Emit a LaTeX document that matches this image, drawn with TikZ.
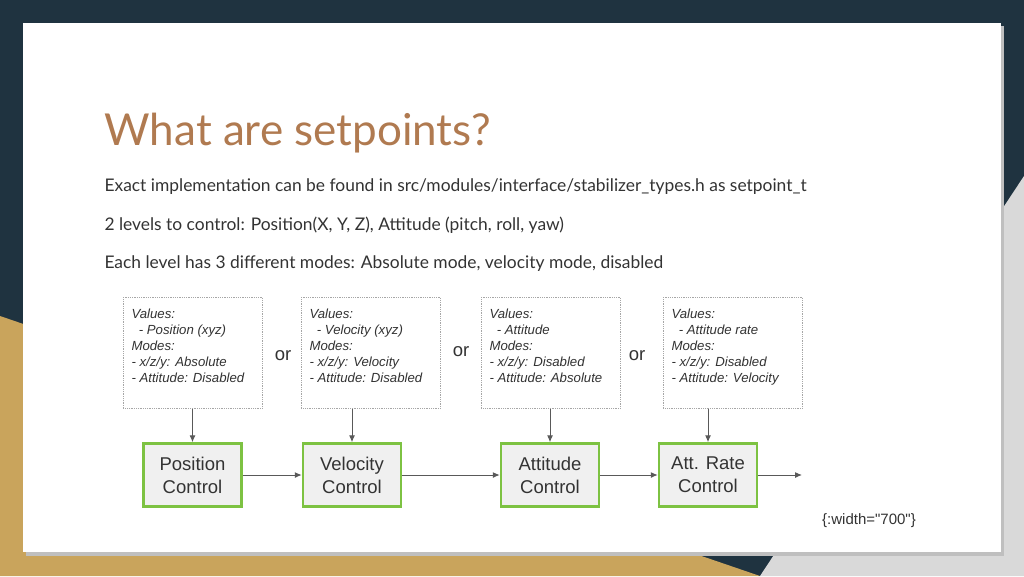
\documentclass[tikz,border=0pt]{standalone}
\usepackage{fontspec}
\setmainfont{Lato}
\newfontfamily\diag{Liberation Sans}
\definecolor{navy}{HTML}{1F3340}
\definecolor{gold}{HTML}{C9A45C}
\definecolor{lgray}{HTML}{D9D9D9}
\definecolor{titlec}{HTML}{B07A50}
\definecolor{gtxt}{HTML}{333333}
\definecolor{grn}{HTML}{7DC242}
\tikzset{
 valbox/.style={draw=gray!70, densely dotted, line width=0.8pt, minimum width=139pt, minimum height=111pt, anchor=north west},
 valtxt/.style={font=\diag\itshape\fontsize{13.2}{16}\selectfont, text=gtxt, align=left, anchor=north west},
 ctrl/.style={draw=grn, line width=2.5pt, fill=gray!12, minimum width=98pt, minimum height=63pt, font=\diag\fontsize{18.5}{23}\selectfont, text=gtxt, align=center},
 orl/.style={font=\diag\fontsize{18.5}{20}\selectfont, text=gtxt},
 arr/.style={draw=gray!70!black, line width=1pt, -{Latex[length=7pt,width=6pt]}},
 body/.style={font=\fontsize{17.4}{20}\selectfont, text=gtxt, anchor=base west}
}
\usetikzlibrary{arrows.meta}
\begin{document}
\begin{tikzpicture}[x=1pt,y=-1pt]
\fill[navy] (0,0) rectangle (1024,576);
\fill[gold] (0,316) -- (760,576) -- (0,576) -- cycle;
\fill[lgray] (1024,176) -- (1024,576) -- (760,576) -- cycle;
\fill[black!25] (26,26) rectangle (1004,556);
\fill[white] (23,23) rectangle (1001,552);
\useasboundingbox (0,0) rectangle (1024,576);
\node[anchor=base west, font=\fontsize{44}{50}\selectfont, text=titlec] (title) at (101,145) {What are setpoints?};
\node[body] (l1) at (101,191) {Exact implementation can be found in src/modules/interface/stabilizer\_types.h as setpoint\_t};
\node[body] (l2) at (101,230) {2 levels to control: Position(X, Y, Z), Attitude (pitch, roll, yaw)};
\node[body] (l3) at (101,268) {Each level has 3 different modes: Absolute mode, velocity mode, disabled};
\foreach \n/\x/\t in {v1/123/{Values:\\\ \ - Position (xyz)\\Modes:\\- x/z/y: Absolute\\- Attitude: Disabled},
  v2/301/{Values:\\\ \ - Velocity (xyz)\\Modes:\\- x/z/y: Velocity\\- Attitude: Disabled},
  v3/481/{Values:\\\ \ - Attitude\\Modes:\\- x/z/y: Disabled\\- Attitude: Absolute},
  v4/663/{Values:\\\ \ - Attitude rate\\Modes:\\- x/z/y: Disabled\\- Attitude: Velocity}}{
  \node[valbox] (\n) at (\x,297) {};
  \node[valtxt] (\n t) at (\x+5,305) {\t};
}
\node[orl] (or1) at (283,356) {or};
\node[orl] (or2) at (461,352) {or};
\node[orl] (or3) at (637,356) {or};
\node[ctrl] (c1) at (192.5,475) {Position\\Control};
\node[ctrl] (c2) at (352,475) {Velocity\\Control};
\node[ctrl] (c3) at (550,475) {Attitude\\Control};
\node[ctrl] (c4) at (708,475) {Att. Rate\\Control};
\coordinate (out) at (802,475);
\draw[arr] (v1.south -| c1) -- (c1);
\draw[arr] (v2.south -| c2) -- (c2);
\draw[arr] (v3.south -| c3) -- (c3);
\draw[arr] (v4.south -| c4) -- (c4);
\draw[arr] (c1) -- (c2);
\draw[arr] (c2) -- (c3);
\draw[arr] (c3) -- (c4);
\draw[arr] (c4) -- (out);
\node[font=\diag\fontsize{15}{17}\selectfont, text=gtxt] (cap) at (869,521) {\{:width="700"\}};
\end{tikzpicture}
\end{document}
